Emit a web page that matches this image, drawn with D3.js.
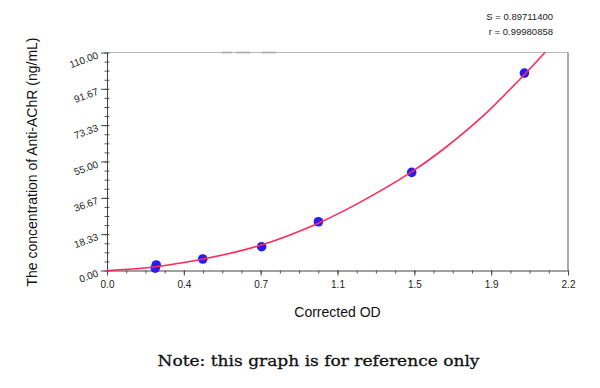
<!DOCTYPE html>
<html>
<head>
<meta charset="utf-8">
<script src="https://cdn.jsdelivr.net/npm/d3@7"></script>
<style>
  html, body { margin: 0; padding: 0; background: #fff; }
  svg { display: block; }
</style>
</head>
<body>
<svg id="chart" width="600" height="388"></svg>
<script>
// ---- data ----
const xTickLabels = ["0.0", "0.4", "0.7", "1.1", "1.5", "1.9", "2.2"];
const yTickLabels = ["0.00", "18.33", "36.67", "55.00", "73.33", "91.67", "110.00"];
const pointOD   = [0.230, 0.235, 0.457, 0.738, 1.009, 1.454, 1.992];
const pointConc = [1.2, 2.8, 5.8, 12.0, 24.6, 49.5, 99.6];
const curveOD   = [0, 0.10, 0.23, 0.46, 0.74, 1.00, 1.20, 1.45, 1.60, 1.80, 2.00, 2.09];
const curveConc = [0, 0.6, 1.9, 5.8, 13.0, 23.5, 34.0, 49.5, 60.8, 78.5, 99.8, 110];
const statLines = ["S = 0.89711400", "r = 0.99980858"];
const xTitle = "Corrected OD";
const yTitle = "The concentration of Anti-AChR (ng/mL)";
const note = "Note: this graph is for reference only";

// ---- layout ----
const svg = d3.select("#chart");
const x = d3.scaleLinear().domain([0, 2.2]).range([107, 568]);
const y = d3.scaleLinear().domain([0, 110]).range([270.5, 52.5]);
const font = "'Liberation Sans', Arial, sans-serif";

const xMajor = xTickLabels.map((_, i) => i * 2.2 / (xTickLabels.length - 1));
const yMajor = yTickLabels.map((_, i) => i * 110 / (yTickLabels.length - 1));
const xMinor = d3.range(0, 25).map(i => i * 2.2 / 24);
const yMinor = d3.range(0, 25).map(i => i * 110 / 24);

// frame: top + right
svg.append("line").attr("x1", x(0)).attr("x2", x(2.2)).attr("y1", y(110)).attr("y2", y(110))
  .attr("stroke", "#b8b8b8").attr("stroke-width", 1);
svg.append("line").attr("x1", x(2.2)).attr("x2", x(2.2)).attr("y1", y(110)).attr("y2", y(0))
  .attr("stroke", "#555").attr("stroke-width", 1);
// faint smudges on top border
[[222, 232], [236, 250], [262, 276]].forEach(s => {
  svg.append("line").attr("x1", s[0]).attr("x2", s[1]).attr("y1", y(110)).attr("y2", y(110))
    .attr("stroke", "#aaa").attr("stroke-width", 2).attr("opacity", 0.7);
});

// x minor ticks
svg.append("g").attr("transform", `translate(0,${y(0)})`)
  .call(d3.axisBottom(x).tickValues(xMinor).tickSize(3).tickFormat(""))
  .call(g => g.select(".domain").remove())
  .selectAll("line").attr("stroke", "#555");
// x major axis
const gx = svg.append("g").attr("transform", `translate(0,${y(0)})`)
  .call(d3.axisBottom(x).tickValues(xMajor).tickSize(5).tickSizeOuter(0)
    .tickFormat((d, i) => xTickLabels[i]));
gx.select(".domain").attr("stroke", "#444");
gx.selectAll("line").attr("stroke", "#444");
gx.selectAll("text").attr("font-family", font).attr("font-size", 10).attr("fill", "#222")
  .attr("dy", "0.9em");

// y minor ticks (both sides)
svg.append("g").attr("transform", `translate(${x(0)},0)`)
  .call(d3.axisLeft(y).tickValues(yMinor).tickSize(2.5).tickFormat(""))
  .call(g => g.select(".domain").remove())
  .selectAll("line").attr("stroke", "#555").attr("x2", 2.5).attr("x1", -2.5);
const gy = svg.append("g").attr("transform", `translate(${x(0)},0)`)
  .call(d3.axisLeft(y).tickValues(yMajor).tickSize(6).tickSizeOuter(0)
    .tickFormat((d, i) => yTickLabels[i]));
gy.select(".domain").attr("stroke", "#444");
gy.selectAll("line").attr("stroke", "#444");
gy.selectAll("text").attr("font-family", font).attr("font-size", 10).attr("fill", "#222")
  .attr("x", 0).attr("dy", 0)
  .attr("transform", "translate(-8,5) rotate(-20)");

// fitted curve
const curvePts = curveOD.map((d, i) => [d, curveConc[i]]);
// points (drawn first, curve overlays them)
svg.append("g").selectAll("circle").data(pointOD.map((d, i) => [d, pointConc[i]]))
  .join("circle")
  .attr("cx", d => x(d[0])).attr("cy", d => y(d[1])).attr("r", 4.8)
  .attr("fill", "#2a1cf0");
svg.append("path").datum(curvePts)
  .attr("d", d3.line().x(d => x(d[0])).y(d => y(d[1])).curve(d3.curveCatmullRom.alpha(0.5)))
  .attr("fill", "none").attr("stroke", "#ff2a5a").attr("stroke-width", 1.6);

// stats text
svg.append("g").selectAll("text").data(statLines).join("text")
  .attr("x", 553).attr("y", (d, i) => 20 + i * 15)
  .attr("text-anchor", "end").attr("font-family", font).attr("font-size", 9.5)
  .attr("fill", "#222").text(d => d);

// axis titles
svg.append("text").attr("x", 337.5).attr("y", 317).attr("text-anchor", "middle")
  .attr("font-family", font).attr("font-size", 14).attr("fill", "#111").text(xTitle);
svg.append("text").attr("transform", "translate(37,162) rotate(-90)")
  .attr("text-anchor", "middle").attr("font-family", font).attr("font-size", 14)
  .attr("fill", "#111").text(yTitle);

// note
svg.append("text").attr("x", 318.5).attr("y", 366).attr("text-anchor", "middle")
  .attr("font-family", "'DejaVu Serif', 'Liberation Serif', serif")
  .attr("font-size", 15.5).attr("fill", "#111").attr("stroke", "#111").attr("stroke-width", 0.3)
  .attr("textLength", 322).attr("lengthAdjust", "spacingAndGlyphs").text(note);
</script>
</body>
</html>
